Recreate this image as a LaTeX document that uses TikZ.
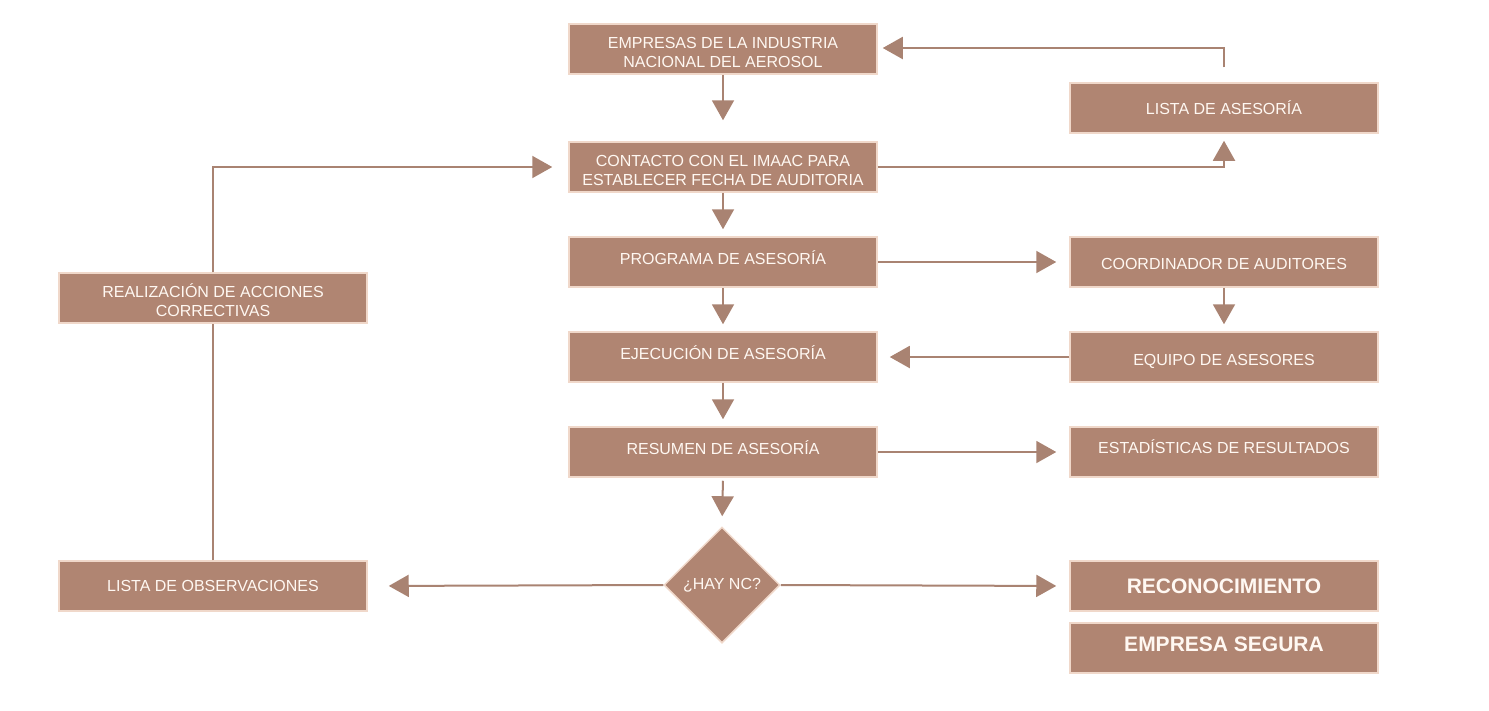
\documentclass[tikz,border=0pt]{standalone}
\usepackage{fontspec}
\setmainfont{Liberation Sans}
\usetikzlibrary{arrows.meta,shapes.geometric}
\definecolor{boxfill}{HTML}{B08572}
\definecolor{boxedge}{HTML}{F0D8CA}
\definecolor{boxtext}{HTML}{FFF8F2}
\definecolor{linec}{HTML}{A98372}
\tikzset{
  x=1pt,y=-1pt,
  stepbox/.style={draw=boxedge,line width=1.5pt,fill=boxfill,text=boxtext,minimum width=308pt,minimum height=50pt,align=center,font=\fontsize{16}{19.5}\selectfont,inner sep=0pt},
  boldbox/.style={stepbox,font=\fontsize{21}{23}\selectfont\bfseries},
  decision/.style={diamond,draw=boxedge,line width=1.5pt,fill=boxfill,text=boxtext,minimum width=116pt,minimum height=116pt,inner sep=0pt,font=\fontsize{16}{19}\selectfont},
  conn/.style={draw=linec,line width=2pt,-{Triangle[width=22pt,length=20pt]}},
  plain/.style={draw=linec,line width=2pt}
}
\newcommand{\up}[2]{\raisebox{#1pt}[\height][\depth]{#2}}
\newcommand{\twolines}[2]{\raisebox{-5pt}[\height][\depth]{\begin{tabular}{@{}c@{}}#1\\#2\end{tabular}}}
\begin{document}
\begin{tikzpicture}
\useasboundingbox (0,0) rectangle (1489,710);
\node[stepbox] (emp) at (723,49) {\twolines{EMPRESAS DE LA INDUSTRIA}{NACIONAL DEL AEROSOL}};
\node[stepbox] (lista) at (1224,108) {\up{0}{LISTA DE ASESORÍA}};
\node[stepbox] (cont) at (723,167) {\twolines{CONTACTO CON EL IMAAC PARA}{ESTABLECER FECHA DE AUDITORIA}};
\node[stepbox] (prog) at (723,262) {\up{4}{PROGRAMA DE ASESORÍA}};
\node[stepbox] (coord) at (1224,262) {\up{-2}{COORDINADOR DE AUDITORES}};
\node[stepbox] (real) at (213,298) {\twolines{REALIZACIÓN DE ACCIONES}{CORRECTIVAS}};
\node[stepbox] (ejec) at (723,357) {\up{4}{EJECUCIÓN DE ASESORÍA}};
\node[stepbox] (equipo) at (1224,357) {\up{-4}{EQUIPO DE ASESORES}};
\node[stepbox] (res) at (723,452) {\up{4}{RESUMEN DE ASESORÍA}};
\node[stepbox] (est) at (1224,452) {\up{5}{ESTADÍSTICAS DE RESULTADOS}};
\node[decision] (dec) at (722,585) {¿HAY NC?};
\node[stepbox] (obs) at (213,586) {\up{0}{LISTA DE OBSERVACIONES}};
\node[boldbox] (rec) at (1224,586) {RECONOCIMIENTO};
\node[boldbox] (seg) at (1224,648) {\up{4}{EMPRESA SEGURA}};
\coordinate (c1) at (1224,48);
\coordinate (c2) at (1224,167);
\coordinate (c3) at (213,167);
% connectors
\draw[conn,shorten <=15pt,shorten >=5pt] (lista.north) -- (c1) -- (emp.east |- c1);
\draw[conn,shorten >=7pt] (cont.east) -- (c2) -- (lista.south);
\draw[conn,shorten >=16pt] (real.north) -- (c3) -- (cont.west);
\draw[conn,shorten >=21pt] (emp.south) -- (cont.north);
\draw[conn,shorten >=7pt] (cont.south) -- (prog.north);
\draw[conn,shorten >=13pt] (prog.east) -- (coord.west);
\draw[conn,shorten >=7pt] (prog.south) -- (ejec.north);
\draw[conn,shorten >=7pt] (coord.south) -- (equipo.north);
\draw[conn,shorten >=12pt] (equipo.west) -- (ejec.east);
\draw[conn,shorten >=7pt] (ejec.south) -- (res.north);
\draw[conn,shorten >=13pt] (res.east) -- (est.west);
\draw[conn,shorten <=3pt,shorten >=10pt] (res.south) -- (dec.north);
\draw[conn,shorten >=21pt] (dec.west) -- (obs.east);
\draw[conn,shorten >=13pt] (dec.east) -- (rec.west);
\draw[plain] (obs.north) -- (real.south);
\end{tikzpicture}
\end{document}
